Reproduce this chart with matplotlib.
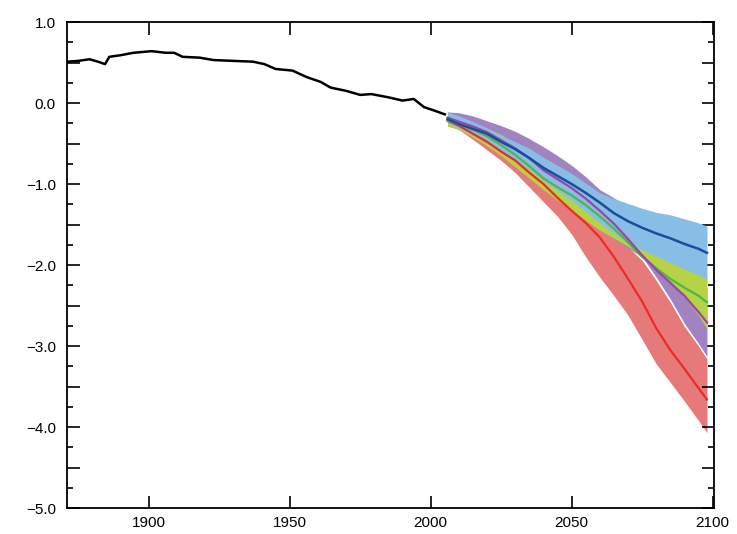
import matplotlib
matplotlib.use("Agg")
import matplotlib.pyplot as plt
from matplotlib.ticker import MultipleLocator, FuncFormatter
import numpy as np

# Historical series
hist_years = [1871, 1875, 1879, 1882, 1884.5, 1886, 1890, 1894.6, 1901, 1906, 1909, 1912,
              1918, 1923, 1930, 1937, 1941, 1945, 1951, 1956, 1961, 1964.5, 1970, 1975,
              1979, 1985, 1990, 1994, 1997.6, 2001, 2005]
hist_vals = [0.51, 0.52, 0.54, 0.51, 0.48, 0.57, 0.59, 0.62, 0.64, 0.62, 0.62, 0.57,
             0.56, 0.53, 0.52, 0.51, 0.48, 0.42, 0.40, 0.32, 0.26, 0.19, 0.15, 0.10,
             0.11, 0.07, 0.03, 0.05, -0.05, -0.09, -0.14]

# Scenario projections
proj_years = [2006, 2010, 2015, 2020, 2025, 2030, 2035, 2040, 2045, 2050,
              2055, 2060, 2065, 2070, 2075, 2080, 2085, 2090, 2095, 2098]

blue_mean = [-0.20, -0.26, -0.32, -0.38, -0.48, -0.57, -0.68, -0.80, -0.90, -1.00,
             -1.11, -1.23, -1.36, -1.46, -1.54, -1.61, -1.67, -1.74, -1.80, -1.85]
blue_high = [-0.11, -0.16, -0.23, -0.31, -0.40, -0.48, -0.56, -0.67, -0.77, -0.87,
             -0.99, -1.11, -1.18, -1.24, -1.30, -1.35, -1.38, -1.43, -1.48, -1.52]
blue_low = [-0.24, -0.31, -0.40, -0.48, -0.59, -0.70, -0.82, -0.96, -1.08, -1.20,
            -1.34, -1.48, -1.61, -1.72, -1.81, -1.89, -1.97, -2.05, -2.12, -2.17]

green_mean = [-0.22, -0.26, -0.33, -0.41, -0.52, -0.64, -0.78, -0.93, -1.04, -1.14,
              -1.26, -1.40, -1.55, -1.72, -1.90, -2.04, -2.17, -2.28, -2.38, -2.46]
green_high = [-0.17, -0.20, -0.25, -0.31, -0.39, -0.49, -0.60, -0.73, -0.84, -0.94,
              -1.06, -1.19, -1.34, -1.50, -1.65, -1.78, -1.90, -2.00, -2.09, -2.15]
green_low = [-0.28, -0.33, -0.42, -0.53, -0.65, -0.79, -0.93, -1.07, -1.20, -1.32,
             -1.45, -1.57, -1.67, -1.77, -1.88, -2.02, -2.20, -2.40, -2.62, -2.79]

purple_mean = [-0.18, -0.23, -0.29, -0.36, -0.46, -0.56, -0.68, -0.83, -0.94, -1.05,
               -1.18, -1.33, -1.49, -1.68, -1.88, -2.06, -2.22, -2.38, -2.58, -2.71]
purple_high = [-0.11, -0.12, -0.16, -0.22, -0.28, -0.35, -0.44, -0.54, -0.65, -0.77,
               -0.91, -1.07, -1.17, -1.30, -1.47, -1.64, -1.82, -1.98, -2.15, -2.28]
purple_low = [-0.28, -0.32, -0.40, -0.50, -0.62, -0.74, -0.87, -1.00, -1.13, -1.27,
              -1.42, -1.56, -1.68, -1.79, -1.90, -2.15, -2.42, -2.72, -2.97, -3.13]

red_mean = [-0.22, -0.28, -0.38, -0.48, -0.60, -0.71, -0.86, -1.00, -1.17, -1.33,
            -1.48, -1.66, -1.90, -2.17, -2.45, -2.78, -3.05, -3.28, -3.52, -3.66]
red_high = [-0.18, -0.23, -0.30, -0.39, -0.48, -0.58, -0.70, -0.82, -0.96, -1.10,
            -1.25, -1.42, -1.60, -1.78, -1.94, -2.19, -2.46, -2.76, -3.00, -3.16]
red_low = [-0.28, -0.33, -0.45, -0.58, -0.71, -0.86, -1.04, -1.22, -1.40, -1.62,
           -1.90, -2.15, -2.38, -2.62, -2.92, -3.22, -3.45, -3.68, -3.92, -4.07]

x_ticks = [1900, 1950, 2000, 2050, 2100]

plt.rcParams['font.family'] = ['Liberation Sans', 'DejaVu Sans']

fig = plt.figure(figsize=(7.37, 5.34), dpi=100)
ax = fig.add_axes([67/737, 26/534, (714-67)/737, (508-22)/534])

# Bands (drawing order: red, purple, green, blue)
ax.fill_between(proj_years, red_low, red_high, color='#E67A7A', lw=0, zorder=1)
ax.fill_between(proj_years, purple_low, purple_high, color='#A283C2', lw=0, zorder=2)
ax.fill_between(proj_years, green_low, green_high, color='#B4D445', lw=0, zorder=3)
ax.fill_between(proj_years, blue_low, blue_high, color='#88BDE6', lw=0, zorder=4)

ax.plot(proj_years, red_mean, color='#EE2A24', lw=1.6, zorder=6)
ax.plot(proj_years, green_mean, color='#4DB848', lw=1.6, zorder=6)
ax.plot(proj_years, purple_mean, color='#9B45A5', lw=1.6, zorder=6)
ax.plot(proj_years, blue_mean, color='#1B4D9E', lw=1.8, zorder=7)

ax.plot(hist_years, hist_vals, color='black', lw=1.8, zorder=8)

ax.set_xlim(1871, 2100.5)
ax.set_ylim(-5.0, 1.0)

ax.set_xticks(x_ticks)
ax.yaxis.set_major_locator(MultipleLocator(0.5))
ax.yaxis.set_minor_locator(MultipleLocator(0.25))

def yfmt(v, pos):
    if abs(v - round(v)) < 1e-6:
        return ('%.1f' % v).replace('-', '\u2212')
    return ''

ax.yaxis.set_major_formatter(FuncFormatter(yfmt))

ax.tick_params(axis='both', which='major', direction='in', length=9, width=1.2,
               top=True, right=True, labelsize=11, colors='black')
ax.tick_params(axis='y', which='minor', direction='in', length=4, width=1.2,
               left=True, right=True)
ax.tick_params(axis='x', which='major', pad=6)
ax.tick_params(axis='y', which='major', pad=8)

for s in ax.spines.values():
    s.set_linewidth(1.3)
    s.set_color('black')

fig.savefig('out.png', dpi=100)
